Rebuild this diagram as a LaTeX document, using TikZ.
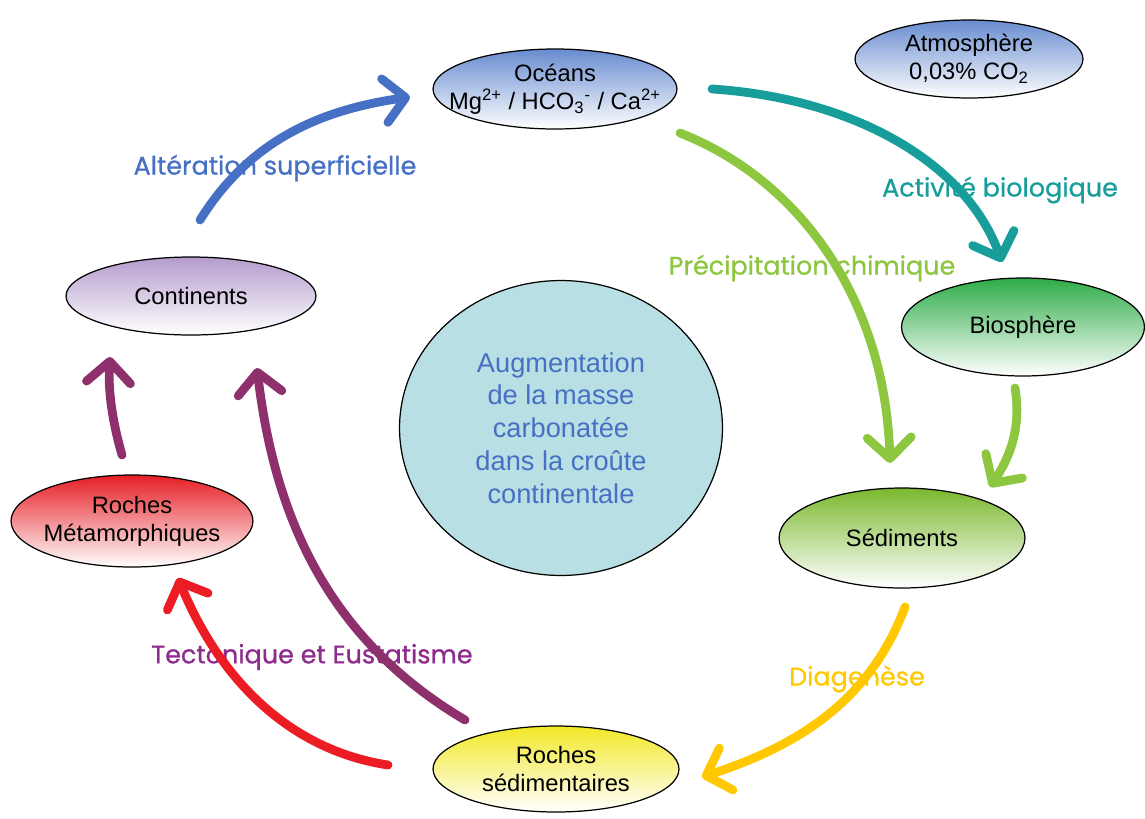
\documentclass[tikz,border=0pt]{standalone}
\usepackage{fontspec}
\setmainfont{Liberation Sans}
\newfontfamily\etiqfont[FakeBold=0.8]{Poppins}
\usetikzlibrary{shapes.geometric,arrows.meta}

\definecolor{oceanbleu}{RGB}{104,140,208}
\definecolor{continentmauve}{RGB}{180,156,204}
\definecolor{biovert}{RGB}{46,172,72}
\definecolor{metarouge}{RGB}{230,30,37}
\definecolor{sedvert}{RGB}{122,184,46}
\definecolor{rochejaune}{RGB}{242,232,40}
\definecolor{disque}{RGB}{184,223,227}
\definecolor{bleu}{RGB}{70,112,196}
\definecolor{sarcelle}{RGB}{24,158,154}
\definecolor{vertclair}{RGB}{141,198,63}
\definecolor{jaune}{RGB}{255,200,0}
\definecolor{rouge}{RGB}{236,28,36}
\definecolor{prune}{RGB}{142,48,108}
\definecolor{violet}{RGB}{142,44,142}

\begin{document}
\begin{tikzpicture}[x=0.02cm, y=-0.02cm,
  bulle/.style={ellipse, draw=black, line width=0.7pt, inner xsep=-14pt, inner ysep=-2pt, align=center,
    font=\fontsize{13.5}{16}\selectfont, bottom color=white},
  fleche/.style={line width=5pt, line cap=round,
    -{Straight Barb[length=12pt, width=25pt, round]}},
  etiquette/.style={font=\etiqfont\fontsize{14.5}{17}\selectfont}]
  \useasboundingbox (0,0) rectangle (1145,818);

  % reservoirs
  \node[bulle, top color=oceanbleu, minimum width=4.88cm, minimum height=1.6cm] (oceans) at (555,89)
    {Océans\\Mg\textsuperscript{2+} / HCO\textsubscript{3}\textsuperscript{-} / Ca\textsuperscript{2+}};
  \node[bulle, top color=oceanbleu, minimum width=4.56cm, minimum height=1.56cm] (atmo) at (969,59)
    {Atmosphère\\0,03\% CO\textsubscript{2}};
  \node[bulle, top color=continentmauve, minimum width=5cm, minimum height=1.56cm] (continents) at (191,296) {Continents};
  \node[bulle, top color=biovert, minimum width=4.86cm, minimum height=1.96cm] (bio) at (1023,327) {Biosphère};
  \node[bulle, top color=metarouge, minimum width=4.84cm, minimum height=1.84cm] (meta) at (132,521) {Roches\\Métamorphiques};
  \node[bulle, top color=sedvert, minimum width=4.92cm, minimum height=2cm] (sediments) at (902,538) {Sédiments};
  \node[bulle, top color=rochejaune, minimum width=4.92cm, minimum height=1.72cm] (rochesed) at (556,769) {Roches\\sédimentaires};
  \node[ellipse, draw=black, line width=0.7pt, fill=disque, minimum width=6.46cm, minimum height=5.9cm,
    align=center, text=bleu, font=\fontsize{15.5}{18.7}\selectfont] (masse) at (561,428)
    {Augmentation\\de la masse\\carbonatée\\dans la croûte\\continentale};

  % processus
  \node[etiquette, text=bleu] (alteration) at (275,168) {Altération superficielle};
  \node[etiquette, text=sarcelle] (activite) at (1000,190) {Activité biologique};
  \node[etiquette, text=vertclair] (precip) at (812,268) {Précipitation chimique};
  \node[etiquette, text=jaune] (diagenese) at (857,679) {Diagenèse};
  \node[etiquette, text=violet] (tectonique) at (312,657) {Tectonique et Eustatisme};

  % extremites des fleches
  \coordinate (alt-a) at (200,220);  \coordinate (alt-b) at (410,97);
  \coordinate (act-a) at (712,89);   \coordinate (act-b) at (1002,262);
  \coordinate (pre-a) at (680,133);  \coordinate (pre-b) at (890,463);
  \coordinate (bio-a) at (1015,388); \coordinate (bio-b) at (990,487);
  \coordinate (dia-a) at (905,607);  \coordinate (dia-b) at (702,777);
  \coordinate (tec-a) at (388,765);  \coordinate (tec-b) at (178,578);
  \coordinate (eus-a) at (465,720);  \coordinate (eus-b) at (257,368);
  \coordinate (met-a) at (122,455);  \coordinate (met-b) at (110,357);

  \draw[fleche, bleu] (alt-a) .. controls (250,140) and (320,110) .. (alt-b);
  \draw[fleche, sarcelle] (act-a) .. controls (850,98) and (965,160) .. (act-b);
  \draw[fleche, vertclair] (pre-a) .. controls (800,180) and (885,300) .. (pre-b);
  \draw[fleche, vertclair] (bio-a) .. controls (1022,430) and (1008,460) .. (bio-b);
  \draw[fleche, jaune] (dia-a) .. controls (870,700) and (800,745) .. (dia-b);
  \draw[fleche, rouge] (tec-a) .. controls (290,750) and (220,680) .. (tec-b);
  \draw[fleche, prune] (eus-a) .. controls (330,640) and (275,520) .. (eus-b);
  \draw[fleche, prune] (met-a) .. controls (112,420) and (108,390) .. (met-b);
\end{tikzpicture}
\end{document}
